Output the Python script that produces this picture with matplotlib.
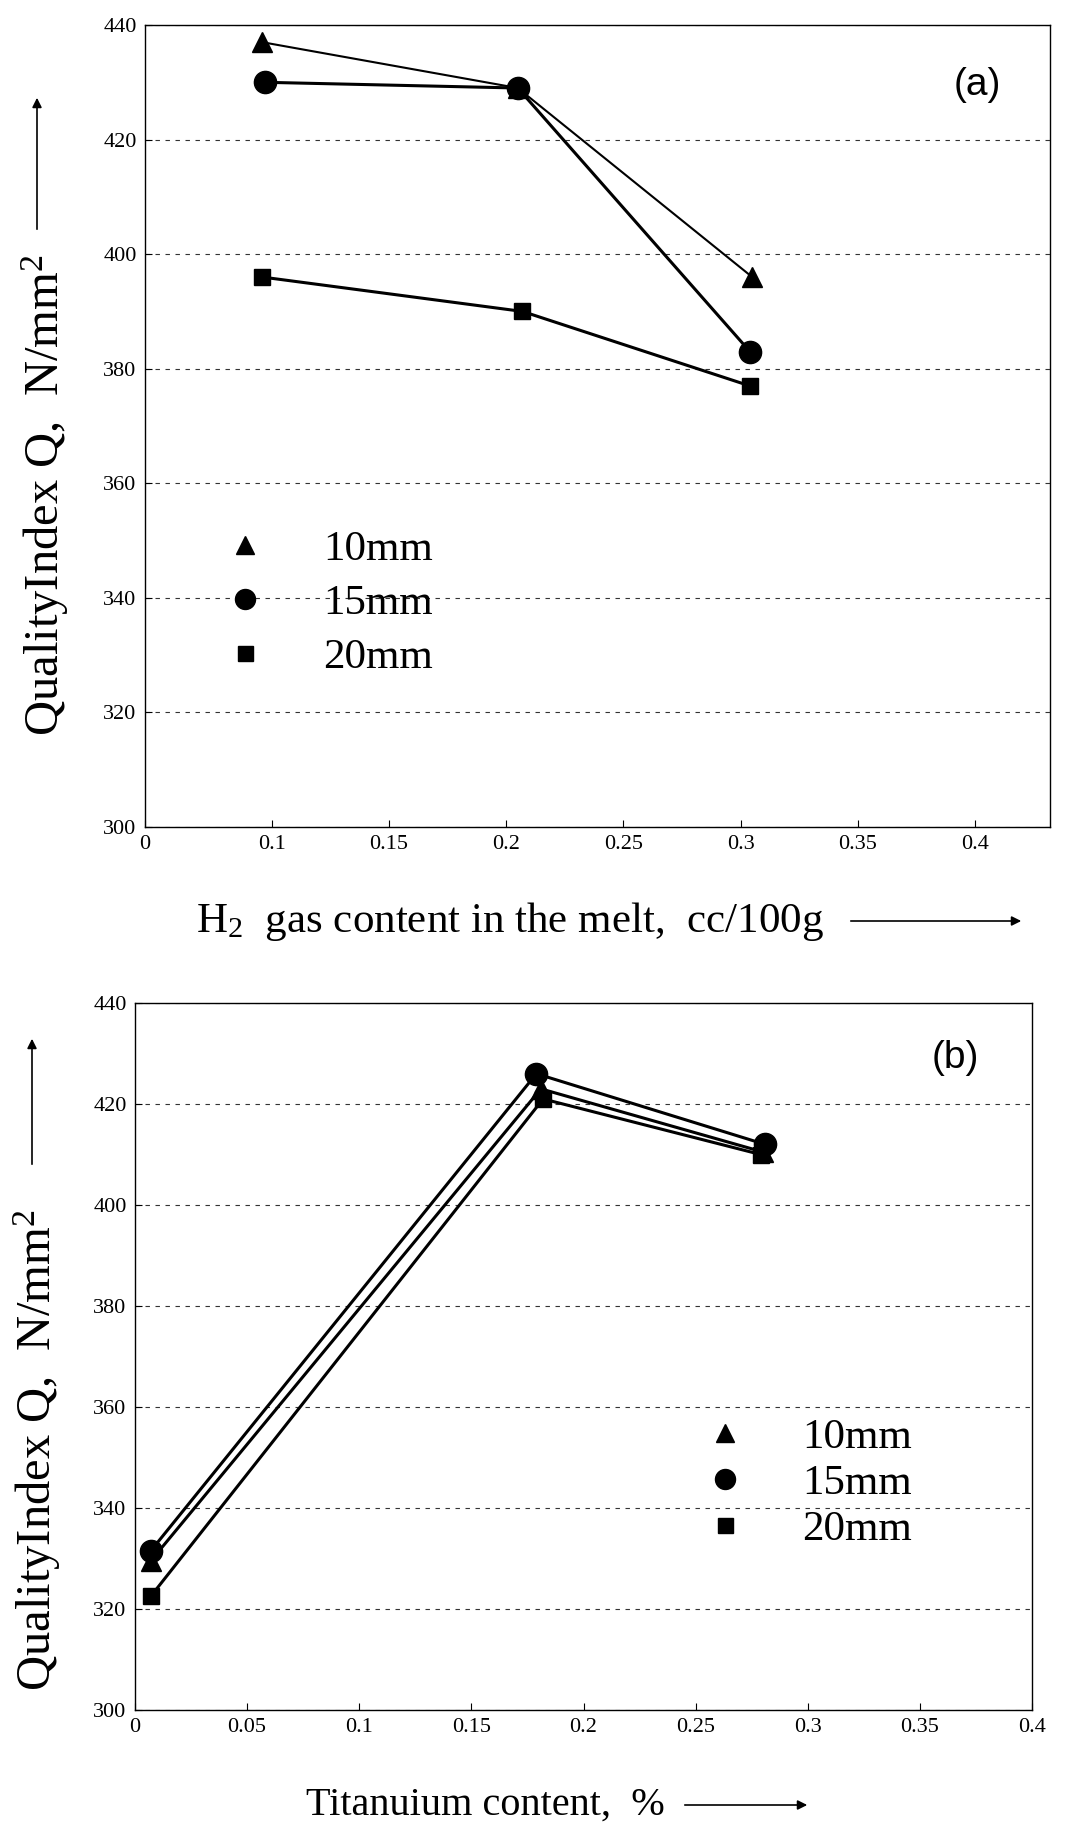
import matplotlib.pyplot as plt
from matplotlib.lines import Line2D

plt.rcParams['font.family'] = ['Liberation Serif', 'DejaVu Serif']
plt.rcParams['mathtext.fontset'] = 'custom'
plt.rcParams['mathtext.rm'] = 'Liberation Serif'
plt.rcParams['mathtext.it'] = 'Liberation Serif:italic'

# panel (a): hydrogen gas content
h2_10 = [0.096, 0.205, 0.305]
q_h2_10 = [437, 429, 396]
h2_15 = [0.097, 0.205, 0.304]
q_h2_15 = [430, 429, 383]
h2_20 = [0.096, 0.207, 0.304]
q_h2_20 = [396, 390, 377]
h2_ticks = [0.046, 0.1, 0.15, 0.2, 0.25, 0.3, 0.35, 0.4]
h2_ticklabels = ['0', '0.1', '0.15', '0.2', '0.25', '0.3', '0.35', '0.4']

# panel (b): titanium content
ti_10 = [0.007, 0.181, 0.280]
q_ti_10 = [329.5, 423, 410.5]
ti_15 = [0.007, 0.179, 0.281]
q_ti_15 = [331.5, 426, 412]
ti_20 = [0.007, 0.182, 0.279]
q_ti_20 = [322.5, 421, 410]
ti_ticks = [0, 0.05, 0.1, 0.15, 0.2, 0.25, 0.3, 0.35, 0.4]
ti_ticklabels = ['0', '0.05', '0.1', '0.15', '0.2', '0.25', '0.3', '0.35', '0.4']

q_ticks = [300, 320, 340, 360, 380, 400, 420, 440]
labels = ['10mm', '15mm', '20mm']
markers = ['^', 'o', 's']
msizes = [15, 16, 12]

W, H = 1080, 1828
fig = plt.figure(figsize=(W / 100, H / 100), dpi=100)


def px_axes(left, top, right, bottom):
    return fig.add_axes([left / W, 1 - bottom / H, (right - left) / W, (bottom - top) / H])


def style_axes(ax):
    ax.set_ylim(300, 440)
    ax.set_yticks(q_ticks)
    ax.tick_params(direction='in', length=5, width=0.8, labelsize=16, pad=6)
    for sp in ax.spines.values():
        sp.set_linewidth(1.0)
    ax.grid(axis='y', linestyle=(0, (4, 5)), linewidth=0.8, color='#333333')
    ax.set_axisbelow(True)


def draw_legend(ax, anchor, spacing):
    handles = [Line2D([], [], linestyle='none', marker=m, markersize=s * 0.9,
                      color='black') for m, s in zip(markers, msizes)]
    ax.legend(handles, labels, loc='center left', bbox_to_anchor=anchor,
              frameon=False, fontsize=31, handletextpad=1.3,
              labelspacing=spacing, handlelength=1.0, borderaxespad=0)


# ---- panel (a)
ax1 = px_axes(145, 25, 1050, 827)
style_axes(ax1)
ax1.set_xlim(0.046, 0.432)
ax1.set_xticks(h2_ticks)
ax1.set_xticklabels(h2_ticklabels)
for x, y, m, s, lw in zip([h2_10, h2_15, h2_20], [q_h2_10, q_h2_15, q_h2_20],
                          markers, msizes, [1.5, 2.2, 2.2]):
    ax1.plot(x, y, color='black', marker=m, markersize=s, linewidth=lw)
ax1.text(0.92, 0.925, '(a)', transform=ax1.transAxes, fontsize=28,
         family='Liberation Sans', ha='center', va='center')
draw_legend(ax1, (0.068, 0.279), 0.35)

# ---- panel (b)
ax2 = px_axes(135, 1003, 1032, 1710)
style_axes(ax2)
ax2.set_xlim(0, 0.4)
ax2.set_xticks(ti_ticks)
ax2.set_xticklabels(ti_ticklabels)
for x, y, m, s in zip([ti_10, ti_15, ti_20], [q_ti_10, q_ti_15, q_ti_20],
                      markers, msizes):
    ax2.plot(x, y, color='black', marker=m, markersize=s, linewidth=2.2)
ax2.text(0.915, 0.922, '(b)', transform=ax2.transAxes, fontsize=28,
         family='Liberation Sans', ha='center', va='center')
draw_legend(ax2, (0.614, 0.321), 0.16)

# ---- axis titles with arrows
ylab = 'QualityIndex Q,  N/mm$^2$'
fig.text(45 / W, 1 - 495 / H, ylab, rotation=90, fontsize=35,
         ha='center', va='center')
fig.text(37 / W, 1 - 1450 / H, ylab, rotation=90, fontsize=35,
         ha='center', va='center')
fig.text(510 / W, 1 - 921 / H, 'H$_2$  gas content in the melt,  cc/100g',
         fontsize=31, ha='center', va='center')
fig.text(485 / W, 1 - 1805 / H, 'Titanuium content,  %',
         fontsize=29, ha='center', va='center')

arrow = dict(arrowstyle='-|>', color='black', lw=1.2, mutation_scale=14)
for (x0, y0, x1, y1) in [(37, 232, 37, 95), (32, 1167, 32, 1036),
                         (848, 921, 1024, 921), (682, 1805, 810, 1805)]:
    fig.add_artist(plt.Annotation('', xy=(x1 / W, 1 - y1 / H), xytext=(x0 / W, 1 - y0 / H),
                                  xycoords='figure fraction', textcoords='figure fraction',
                                  arrowprops=arrow))

fig.savefig('out.png', dpi=100)
